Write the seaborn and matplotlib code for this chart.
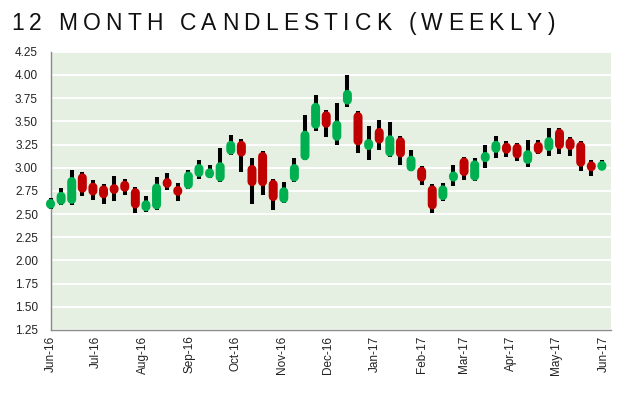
import numpy as np
import pandas as pd
import seaborn as sns
import matplotlib.pyplot as plt
import matplotlib.dates as mdates

title = "12 MONTH CANDLESTICK (WEEKLY)"
first_week = "2016-06-01"

opens = [2.57, 2.60, 2.61, 2.94, 2.84, 2.81, 2.81, 2.86, 2.78, 2.53,
         2.55, 2.88, 2.79, 2.77, 2.90, 2.89, 2.85, 3.14, 3.29, 3.03,
         3.17, 2.87, 2.62, 2.85, 3.08, 3.42, 3.61, 3.29, 3.68, 3.60,
         3.19, 3.43, 3.12, 3.33, 2.96, 3.01, 2.81, 2.65, 2.85, 3.11,
         2.86, 3.06, 3.16, 3.27, 3.26, 3.04, 3.28, 3.18, 3.42, 3.32,
         3.28, 3.06, 2.97]
highs = [2.67, 2.78, 2.98, 2.95, 2.87, 2.82, 2.91, 2.88, 2.79, 2.70,
         2.90, 2.94, 2.84, 2.98, 3.08, 3.03, 3.21, 3.35, 3.31, 3.11,
         3.18, 2.88, 2.85, 3.11, 3.57, 3.78, 3.62, 3.70, 4.00, 3.61,
         3.45, 3.51, 3.49, 3.34, 3.19, 3.02, 2.82, 2.84, 3.03, 3.12,
         3.11, 3.24, 3.34, 3.29, 3.27, 3.30, 3.30, 3.43, 3.43, 3.33,
         3.29, 3.08, 3.08]
lows = [2.55, 2.60, 2.60, 2.69, 2.65, 2.61, 2.64, 2.71, 2.51, 2.52,
        2.54, 2.76, 2.64, 2.77, 2.88, 2.89, 2.85, 3.14, 2.95, 2.61,
        2.71, 2.54, 2.62, 2.85, 3.08, 3.40, 3.33, 3.24, 3.65, 3.16,
        3.08, 3.19, 3.12, 3.03, 2.96, 2.81, 2.51, 2.64, 2.80, 2.87,
        2.86, 3.00, 3.11, 3.12, 3.07, 3.01, 3.15, 3.13, 3.15, 3.13,
        2.96, 2.91, 2.97]
closes = [2.65, 2.74, 2.90, 2.73, 2.70, 2.67, 2.73, 2.74, 2.56, 2.65,
          2.83, 2.79, 2.71, 2.96, 3.04, 2.99, 3.06, 3.29, 3.12, 2.80,
          2.80, 2.64, 2.79, 3.04, 3.40, 3.70, 3.43, 3.51, 3.84, 3.24,
          3.31, 3.26, 3.35, 3.11, 3.13, 2.85, 2.55, 2.81, 2.96, 2.91,
          3.08, 3.17, 3.29, 3.15, 3.10, 3.19, 3.15, 3.33, 3.20, 3.19,
          3.01, 2.97, 3.07]

df = pd.DataFrame({
    "week": pd.date_range(first_week, periods=len(opens), freq="7D"),
    "open": opens, "high": highs, "low": lows, "close": closes,
})

sns.set_theme(style="whitegrid", rc={
    "axes.facecolor": "#e5f0e2",
    "grid.color": "white",
    "grid.linewidth": 1.3,
    "axes.edgecolor": "#8a8a8a",
    "axes.linewidth": 1.0,
})
plt.rcParams["font.family"] = ["Liberation Sans", "DejaVu Sans"]

W, H = 628, 396
fig = plt.figure(figsize=(W / 100, H / 100), dpi=100)
ax = fig.add_axes([50.5 / W, 66 / H, 560.5 / W, 278.2 / H])
ax.set_ylim(1.25, 4.25)
ax.set_xlim(pd.Timestamp("2016-06-01"), pd.Timestamp("2017-06-06"))

# wicks
ax.vlines(df["week"], df["low"], df["high"], color="black",
          linewidth=2.9, zorder=3, clip_on=False)

# bodies: thick round-capped segments, shortened by the cap radius
body_px = 9
px_per_unit = ax.get_position().height * H / 3.0
rad = body_px / 2 / px_per_unit
top = np.maximum(df["open"], df["close"])
bot = np.minimum(df["open"], df["close"])
mid = (top + bot) / 2
top_s = np.maximum(top - rad, mid + 0.005)
bot_s = np.minimum(bot + rad, mid - 0.005)
colors = np.where(df["close"] >= df["open"], "#00b050", "#c00000")
bodies = ax.vlines(df["week"], bot_s, top_s, colors=colors,
                   linewidth=body_px * 0.72, capstyle="round", zorder=4,
                   clip_on=False)
bodies.set_snap(False)

ax.set_yticks(np.arange(1.25, 4.26, 0.25))
ax.yaxis.set_major_formatter(plt.FormatStrFormatter("%.2f"))
ax.xaxis.set_major_locator(mdates.MonthLocator())
ax.xaxis.set_major_formatter(mdates.DateFormatter("%b-%y"))
ax.grid(axis="x", visible=False)
ax.tick_params(axis="x", rotation=90, labelsize=8.5, pad=4, colors="#222222", length=0)
ax.tick_params(axis="y", labelsize=8.5, pad=9, colors="#222222", length=0)
for s in ["top", "right"]:
    ax.spines[s].set_visible(False)
ax.set_xlabel("")
ax.set_ylabel("")

# title with wide letter spacing
rend = fig.canvas.get_renderer()
fs = 16.5
x = 11.0
for ch in title:
    if ch == " ":
        x += fs * 100 / 72 * 0.278 + 5.2
        continue
    t = fig.text(x / W, 1 - 30 / H, ch, fontsize=fs, color="#111111",
                 va="baseline", ha="left")
    x += t.get_window_extent(rend).width + 5.2

fig.savefig("out.png", dpi=100)
